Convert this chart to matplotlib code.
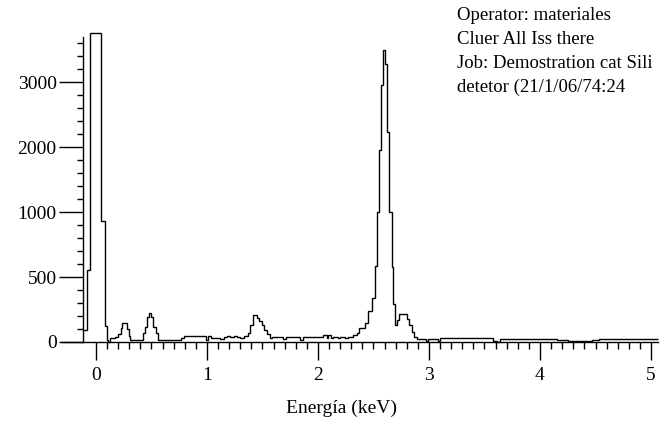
import numpy as np
import matplotlib
matplotlib.use("Agg")
import matplotlib.pyplot as plt

plt.rcParams['font.family'] = ['Liberation Serif', 'DejaVu Serif']

# ---- data (energy bin edges in keV, counts per bin) ----
edges = [-0.117, -0.080, -0.054, 0.048, 0.084, 0.100, 0.112, 0.126, 0.168, 0.198,
         0.222, 0.237, 0.279, 0.297, 0.309, 0.423, 0.438, 0.459, 0.477, 0.498,
         0.516, 0.538, 0.559, 0.769, 0.793, 0.99, 1.01, 1.04, 1.12, 1.15,
         1.18, 1.21, 1.24, 1.27, 1.30, 1.33, 1.37, 1.39, 1.417, 1.447,
         1.471, 1.492, 1.514, 1.538, 1.568, 1.583, 1.688, 1.712, 1.838, 1.862,
         2.048, 2.078, 2.093, 2.117, 2.138, 2.183, 2.198, 2.243, 2.273, 2.318,
         2.348, 2.372, 2.42, 2.453, 2.483, 2.514, 2.534, 2.548, 2.565, 2.583,
         2.604, 2.625, 2.643, 2.663, 2.678, 2.693, 2.712, 2.732, 2.798, 2.822,
         2.843, 2.864, 2.888, 2.97, 2.99, 3.08, 3.10, 3.58, 3.61, 3.64,
         4.03, 4.05, 4.15, 4.25, 4.33, 4.40, 4.47, 4.53, 4.60, 5.063]
counts = [92, 554, 3760, 931, 120, 18, 3, 33, 41,
          59, 105, 144, 97, 45, 15, 67, 118, 195, 225,
          195, 118, 67, 15, 30, 46, 15, 46, 28, 20,
          41, 46, 36, 49, 41, 33, 49, 72, 131, 208,
          182, 164, 131, 92, 59, 28, 41, 20, 41, 15,
          41, 51, 33, 54, 33, 41, 28, 41, 33, 41,
          54, 72, 108, 150, 235, 340, 585, 1000, 1954, 2954,
          3500, 3277, 2236, 1000, 580, 290, 131, 169, 215, 174,
          131, 79, 41, 23, 8, 26, 8, 28, 10, 3,
          20, 25, 20, 15, 10, 5, 8, 14, 20, 26]

x_major = [0, 1, 2, 3, 4, 5]
y_major = [0, 500, 1000, 2000, 3000]
info_lines = ["Operator: materiales",
              "Cluer All Iss there",
              "Job: Demostration cat Sili",
              "detetor (21/1/06/74:24"]
xlabel = "Energía (keV)"


def fwd(c):
    c = np.asarray(c, dtype=float)
    return np.where(c <= 1000, c, 1000 + (c - 1000) / 2.0)


def inv(f):
    f = np.asarray(f, dtype=float)
    return np.where(f <= 1000, f, 1000 + (f - 1000) * 2.0)


W, H = 668, 424
fig = plt.figure(figsize=(W / 100, H / 100), dpi=100)
ax = fig.add_axes([62 / W, 82 / H, 596 / W, 310 / H])
ax.set_yscale('function', functions=(fwd, inv))

ax.stairs(counts, edges, color='black', lw=1.0, baseline=None, clip_on=False)

ax.set_xlim(-0.306, 5.063)
ax.set_ylim(0, 3770)

for s in ['top', 'right']:
    ax.spines[s].set_visible(False)
ax.spines['left'].set_position(('data', -0.117))
ax.spines['left'].set_bounds(0, 3700)
for s in ['left', 'bottom']:
    ax.spines[s].set_linewidth(1.0)

ax.set_xticks(x_major)
ax.set_xticklabels([str(v) for v in x_major])
ax.set_xticks([round(0.1 * i, 1) for i in range(1, 50) if i % 10 != 0], minor=True)
ax.set_yticks(y_major)
ax.set_yticklabels([str(v) for v in y_major])
ax.set_yticks([100 * i for i in range(1, 10) if i != 5] +
              [200 * i for i in range(6, 19) if i not in (10, 15)], minor=True)

ax.tick_params(axis='x', which='major', length=13, width=1.0, pad=5, labelsize=14)
ax.tick_params(axis='x', which='minor', length=5, width=1.0)
ax.tick_params(axis='y', which='major', length=17, width=1.0, pad=2, labelsize=14)
ax.tick_params(axis='y', which='minor', length=4.5, width=1.0)

fig.text(341 / W, 1 - 413 / H, xlabel, ha='center', va='baseline', fontsize=14)

for i, line in enumerate(info_lines):
    fig.text(457 / W, 1 - (19.5 + 24.2 * i) / H, line, ha='left', va='baseline',
             fontsize=13.5)

fig.savefig("out.png", dpi=100)
